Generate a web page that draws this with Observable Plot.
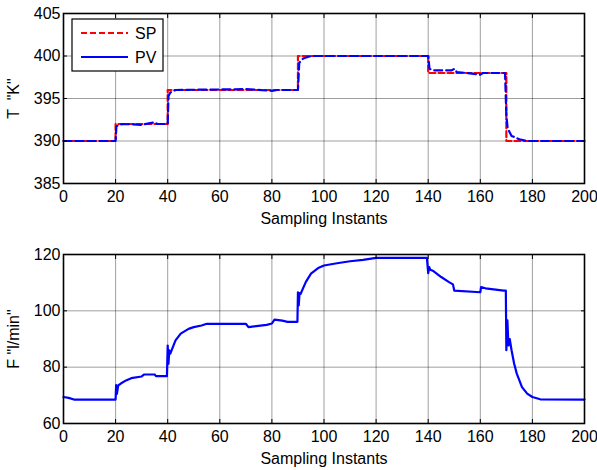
<!DOCTYPE html>
<html><head><meta charset="utf-8">
<script src="https://cdn.jsdelivr.net/npm/d3@7"></script>
<script src="https://cdn.jsdelivr.net/npm/@observablehq/plot@0.6"></script>
<style>
body{margin:0;background:#fff;}
#chart{width:597px;height:470px;}
svg{display:block;}
</style></head><body><div id="chart"></div>
<script>
// Top panel: temperature set point (SP) and process value (PV)
const spX = [0,20,20,40,40,90,90,140,140,170,170,200];
const spY = [390,390,392,392,396,396,400,400,398,398,390,390];
const pvTX = [0,20,20.3,21,23,30,35,36,40,40.3,41,43,70,80,82,90,90.5,92,95,140,140.5,142,149,150,151,155,160,161,169.5,170,170.5,172,175,178,200];
const pvTY = [390,390,391.7,391.9,392,391.9,392.2,392,392,395.3,395.7,396,396.1,395.9,396,396,399.2,399.7,400,400,398.5,398.3,398.3,398.5,398.1,398,397.8,398,398,393,391.5,390.6,390.2,390,390];
// Bottom panel: flow
const fX = [0,2,4,20,20.2,20.5,21,22,24,26,30,31,35,35.5,39.7,40,40.3,40.6,41,43,45,48,50,53,55,70,71,74,78,80,81,84,86,89.8,90,90.3,90.6,91,93,95,98,100,105,110,115,120,139.5,140,140.4,140.8,142,145,148,149.5,150,160,160.3,162,169,169.8,170,170.4,170.8,171.3,172,173,174,176,178,180,183,200];
const fY = [69.4,69.1,68.5,68.5,73.6,70.5,73.5,74.2,75.3,76.1,76.7,77.4,77.4,76.8,76.8,87.7,81.2,86,84.8,89.5,91.9,93.6,94.2,94.8,95.4,95.4,94.2,94.6,95.0,95.5,96.9,96.5,96.1,96.1,106.6,101.9,106.3,106,110.2,113.2,115.3,116.1,116.9,117.6,118.1,118.8,118.8,113.4,115.5,114.6,114.1,112.0,110.2,109.4,107.2,106.6,108.4,108.0,107.2,107.2,86,96.6,87.7,90,86,81.2,77.7,72.9,70.6,69.4,68.6,68.5];

const xTicks = [0,20,40,60,80,100,120,140,160,180,200];
const tTicks = [385,390,395,400,405];
const fTicks = [60,80,100,120];

const sp = spX.map((x,i)=>({x, y: spY[i]}));
const pv = pvTX.map((x,i)=>({x, y: pvTY[i]}));
const fl = fX.map((x,i)=>({x, y: fY[i]}));

const FONT = "'Liberation Sans', Arial, sans-serif";

function panel({height, marginTop, yDomain, yTicks, yLabel, marks}) {
  return Plot.plot({
    width: 597, height, marginTop, marginBottom: 47, marginLeft: 63, marginRight: 13,
    style: {fontFamily: FONT, fontSize: "15px", background: "white", color: "black", overflow: "visible"},
    x: {domain: [0,200]},
    y: {domain: yDomain},
    marks: [
      Plot.gridX(xTicks, {stroke: "#000", strokeOpacity: 0.38}),
      Plot.gridY(yTicks, {stroke: "#000", strokeOpacity: 0.38}),
      ...marks,
      Plot.axisX(xTicks, {anchor: "bottom", tickSize: -4, tickPadding: 11, fontSize: 16, label: "Sampling Instants", labelAnchor: "center", labelArrow: "none", labelOffset: 40}),
      Plot.axisX(xTicks, {anchor: "top", tickSize: -4, tickFormat: () => "", label: null}),
      Plot.axisY(yTicks, {anchor: "left", tickSize: -4, tickPadding: 7, fontSize: 16, label: yLabel, labelAnchor: "center", labelArrow: "none", labelOffset: 56}),
      Plot.axisY(yTicks, {anchor: "right", tickSize: -4, tickFormat: () => "", label: null}),
      Plot.frame({stroke: "black", strokeWidth: 1.6})
    ]
  });
}

const topPanel = panel({
  height: 230, marginTop: 13, yDomain: [385,405], yTicks: tTicks, yLabel: 'T  "K"',
  marks: [
    Plot.line(sp, {x: "x", y: "y", stroke: "red", strokeWidth: 2.2, strokeDasharray: "6,3"}),
    Plot.line(pv, {x: "x", y: "y", stroke: "blue", strokeWidth: 2.2, strokeDasharray: "8,4"})
  ]
});
const bottomPanel = panel({
  height: 240, marginTop: 24, yDomain: [60,120], yTicks: fTicks, yLabel: 'F "l/min"',
  marks: [
    Plot.line(fl, {x: "x", y: "y", stroke: "blue", strokeWidth: 2.2})
  ]
});

// Legend (MATLAB-style box, top-left inside the upper axes)
const legendItems = [
  {name: "SP", color: "red", dash: "6,3"},
  {name: "PV", color: "blue", dash: null}
];
const g = d3.select(topPanel).append("g").attr("class", "legend").attr("text-anchor", "start");
g.append("rect").attr("x", 72).attr("y", 19).attr("width", 91).attr("height", 52)
  .attr("fill", "white").attr("stroke", "black").attr("stroke-width", 1.2);
legendItems.forEach((d, i) => {
  const y = 33 + i * 24;
  g.append("line").attr("x1", 81).attr("x2", 128).attr("y1", y).attr("y2", y)
    .attr("stroke", d.color).attr("stroke-width", 2.2).attr("stroke-dasharray", d.dash);
  g.append("text").attr("x", 135).attr("y", y).attr("dy", "0.36em").attr("text-anchor", "start")
    .attr("font-family", FONT).attr("font-size", 16).attr("fill", "black").text(d.name);
});

document.getElementById("chart").append(topPanel, bottomPanel);
</script>
</body></html>
